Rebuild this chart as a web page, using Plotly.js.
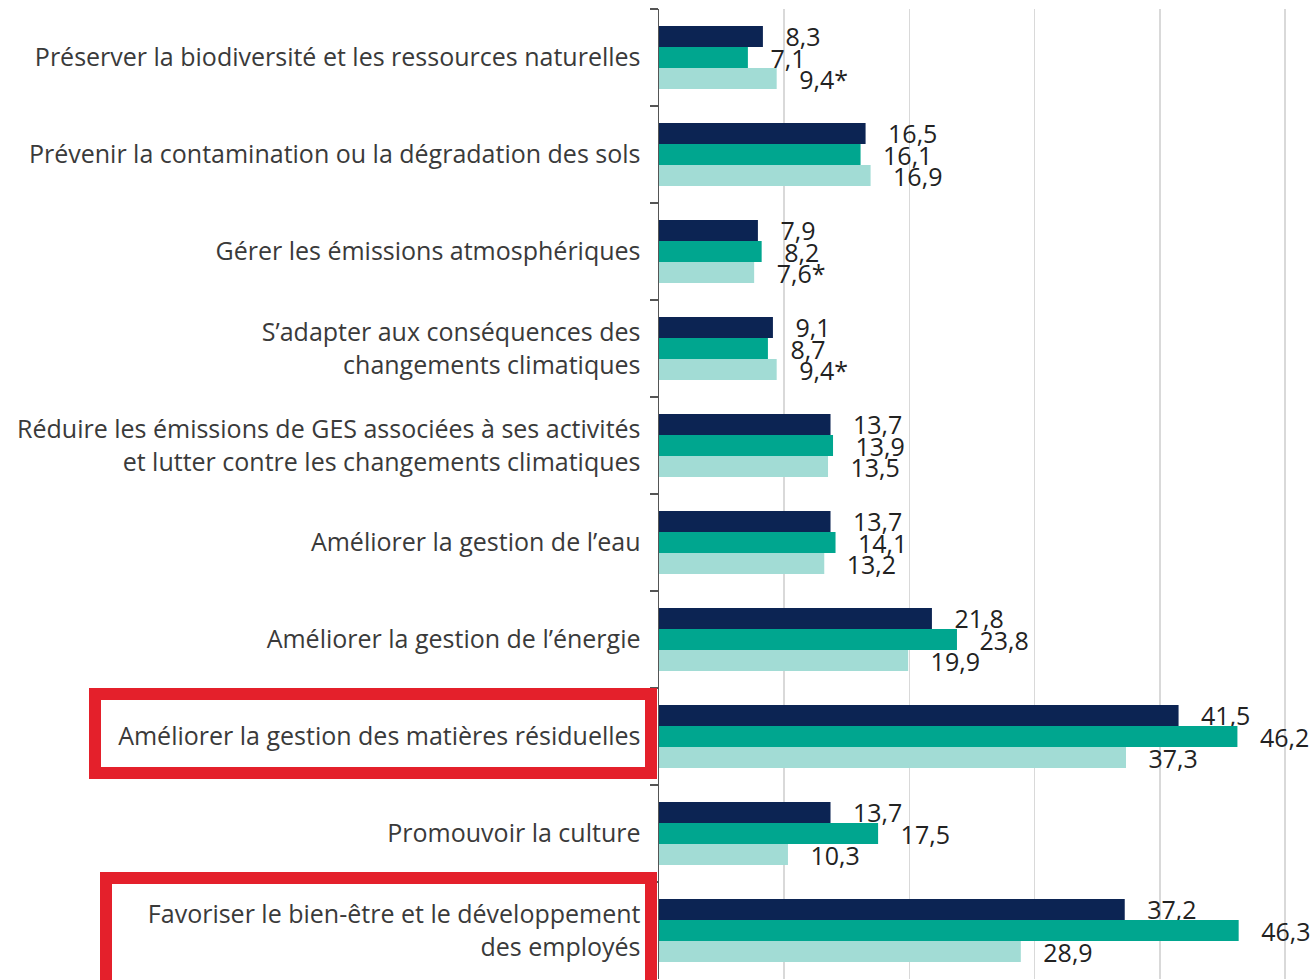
<!DOCTYPE html>
<html>
<head>
<meta charset="utf-8">
<script src="https://cdn.plot.ly/plotly-3.0.1.min.js"></script>
<style>html,body{margin:0;padding:0;background:#fff;}#chart{width:1316px;height:980px;}</style>
</head>
<body>
<div id="chart"></div>
<script>
const categories = [
  "Préserver la biodiversité et les ressources naturelles",
  "Prévenir la contamination ou la dégradation des sols",
  "Gérer les émissions atmosphériques",
  "S’adapter aux conséquences des<br>changements climatiques",
  "Réduire les émissions de GES associées à ses activités<br>et lutter contre les changements climatiques",
  "Améliorer la gestion de l’eau",
  "Améliorer la gestion de l’énergie",
  "Améliorer la gestion des matières résiduelles",
  "Promouvoir la culture",
  "Favoriser le bien-être et le développement<br>des employés"
];
const seriesNavy  = [8.3, 16.5, 7.9, 9.1, 13.7, 13.7, 21.8, 41.5, 13.7, 37.2];
const seriesTeal  = [7.1, 16.1, 8.2, 8.7, 13.9, 14.1, 23.8, 46.2, 17.5, 46.3];
const seriesLight = [9.4, 16.9, 7.6, 9.4, 13.5, 13.2, 19.9, 37.3, 10.3, 28.9];
const lightFlags  = ["*", "", "*", "*", "", "", "", "", "", ""];

const fmt = (v, f) => "\u00A0\u00A0\u00A0" + v.toFixed(1).replace(".", ",") + (f || "");

const W = 1316, H = 980;
const M = {l: 659, r: 26, t: 9, b: 1};
const pw = W - M.l - M.r, ph = H - M.t - M.b;
const px = x => (x - M.l) / pw;
const py = y => (H - M.b - y) / ph;

function mk(vals, color, flags) {
  return {
    type: "bar", orientation: "h",
    x: vals, y: categories,
    marker: {color: color, line: {width: 0}},
    text: vals.map((v, i) => fmt(v, flags ? flags[i] : "")),
    textposition: "outside",
    constraintext: "none",
    cliponaxis: false,
    textfont: {family: "Open Sans", size: 25, color: "#222"},
    hoverinfo: "x+y",
    showlegend: false
  };
}

const data = [
  mk(seriesNavy, "#0c2453"),
  mk(seriesTeal, "#00a68f"),
  mk(seriesLight, "#a2dcd5", lightFlags)
];

const boxes = [
  {x0: 95, x1: 651, y0: 694, y1: 773},
  {x0: 106, x1: 651, y0: 878, y1: 995}
];

const layout = {
  width: W, height: H,
  margin: M,
  paper_bgcolor: "#fff", plot_bgcolor: "#fff",
  barmode: "group", bargap: 0.35, bargroupgap: 0,
  font: {family: "Open Sans", size: 25, color: "#333"},
  xaxis: {
    range: [0, 50.4], showticklabels: false, ticks: "",
    showgrid: true, gridcolor: "#d9d9d9", gridwidth: 1.5,
    dtick: 10, zeroline: false, showline: false, fixedrange: true
  },
  yaxis: {
    autorange: "reversed", type: "category",
    showline: true, linecolor: "#555", linewidth: 1.5,
    ticks: "outside", tickson: "boundaries", ticklen: 8, tickcolor: "#555", tickwidth: 1.5,
    ticklabelstandoff: 12,
    tickfont: {family: "Open Sans", size: 25, color: "#3a3a3a"},
    showgrid: false, zeroline: false, fixedrange: true
  },
  shapes: [
    {x0: 95, x1: 651, y0: 694, y1: 773},
    {x0: 106, x1: 651, y0: 878, y1: 995}
  ].map(b => ({
    type: "rect", xref: "paper", yref: "paper",
    x0: px(b.x0), x1: px(b.x1), y0: py(b.y1), y1: py(b.y0),
    line: {color: "#e4202b", width: 12}, fillcolor: "rgba(0,0,0,0)"
  }))
};

Plotly.newPlot("chart", data, layout, {displayModeBar: false, staticPlot: true});
</script>
</body>
</html>
